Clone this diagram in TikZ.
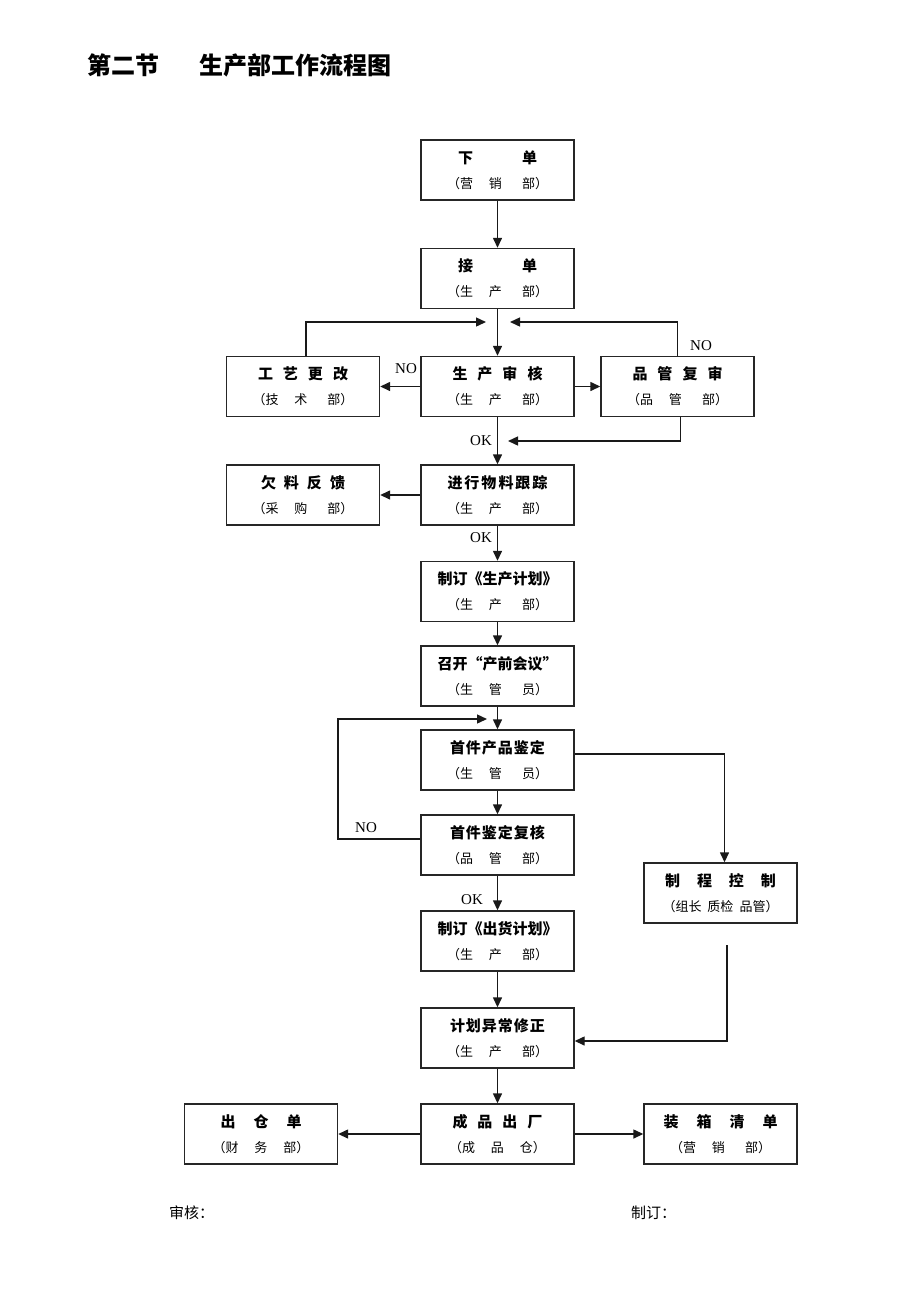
\documentclass[tikz,border=0pt]{standalone}
\usepackage{fontspec}
\usetikzlibrary{arrows.meta}
\newfontfamily\cjk{Noto Sans CJK SC}
\newfontfamily\latinf{Liberation Serif}
\newcommand\gp[1]{\hspace{#1pt}}
\newcommand\subf{\cjk\mdseries\fontsize{13}{15}\selectfont}
\tikzset{
  box/.style={draw=black!85, line width=1.4pt, minimum width=153pt, minimum height=60pt,
    inner sep=0pt, align=center, font=\cjk\bfseries\fontsize{15}{18}\selectfont},
  conn/.style={line width=1.4pt, draw=black!90},
  arr/.style={conn, -{Triangle[length=10pt,width=9pt]}},
  lbl/.style={font=\latinf\fontsize{15}{17}\selectfont, inner sep=0pt},
  ttl/.style={font=\cjk\bfseries\fontsize{24}{28}\selectfont, anchor=west, inner sep=0pt},
  foot/.style={font=\cjk\fontsize{15}{17}\selectfont, anchor=west, inner sep=0pt}
}
\begin{document}
\begin{tikzpicture}[x=1pt,y=-1pt]
\useasboundingbox[fill=white] (0,0) rectangle (920,1302);

\node[ttl] (t1) at (87,65) {第二节};
\node[ttl] (t2) at (199,65) {生产部工作流程图};

\node[box] (xd) at (497.5,170) {下\gp{49}单\\[7pt]{\subf （营\gp{16}销\gp{20}部）}};
\node[box] (jd) at (497.5,278.5) {接\gp{49}单\\[7pt]{\subf （生\gp{16}产\gp{20}部）}};
\node[box] (sh) at (497.5,386.5) {生\gp{10}产\gp{10}审\gp{10}核\\[7pt]{\subf （生\gp{16}产\gp{20}部）}};
\node[box] (gy) at (303,386.5) {工\gp{10}艺\gp{10}更\gp{10}改\\[7pt]{\subf （技\gp{16}术\gp{20}部）}};
\node[box] (pg) at (677.5,386.5) {品\gp{10}管\gp{10}复\gp{10}审\\[7pt]{\subf （品\gp{16}管\gp{20}部）}};
\node[box] (wl) at (497.5,495) {进\gp{2}行\gp{2}物\gp{2}料\gp{2}跟\gp{2}踪\\[7pt]{\subf （生\gp{16}产\gp{20}部）}};
\node[box] (ql) at (303,495) {欠\gp{8}料\gp{8}反\gp{8}馈\\[7pt]{\subf （采\gp{16}购\gp{20}部）}};
\node[box] (jh) at (497.5,591.5) {制订《生产计划》\\[7pt]{\subf （生\gp{16}产\gp{20}部）}};
\node[box] (hy) at (497.5,676) {召开“产前会议”\\[7pt]{\subf （生\gp{16}管\gp{20}员）}};
\node[box] (sj) at (497.5,760) {首\gp{1}件\gp{1}产\gp{1}品\gp{1}鉴\gp{1}定\\[7pt]{\subf （生\gp{16}管\gp{20}员）}};
\node[box] (fh) at (497.5,845) {首\gp{1}件\gp{1}鉴\gp{1}定\gp{1}复\gp{1}核\\[7pt]{\subf （品\gp{16}管\gp{20}部）}};
\node[box] (ch) at (497.5,941) {制订《出货计划》\\[7pt]{\subf （生\gp{16}产\gp{20}部）}};
\node[box] (yc) at (497.5,1038) {计\gp{1}划\gp{1}异\gp{1}常\gp{1}修\gp{1}正\\[7pt]{\subf （生\gp{16}产\gp{20}部）}};
\node[box] (cc) at (497.5,1134) {成\gp{10}品\gp{10}出\gp{10}厂\\[7pt]{\subf （成\gp{16}品\gp{16}仓）}};
\node[box] (ckd) at (261,1134) {出\gp{18}仓\gp{18}单\\[7pt]{\subf （财\gp{16}务\gp{16}部）}};
\node[box] (zx) at (720.5,1134) {装\gp{18}箱\gp{18}清\gp{18}单\\[7pt]{\subf （营\gp{16}销\gp{20}部）}};
\node[box] (zk) at (720.5,893) {制\gp{17}程\gp{17}控\gp{17}制\\[7pt]{\subf （组长\gp{6}质检\gp{6}品管）}};

% connectors
\draw[arr] (xd) -- (jd);
\draw[arr] (jd) -- (sh);
\coordinate (e1) at (486,322);
\coordinate (e2) at (510,322);
\draw[arr] ([xshift=3pt]gy.north) |- (e1);
\draw[arr] (pg.north) |- (e2);
\draw[arr] (sh.west) -- (gy.east);
\draw[arr] (sh.east) -- (pg.west);
\draw[arr] (sh) -- (wl);
\coordinate (e3) at (508,441);
\draw[arr] ([xshift=3pt]pg.south) |- (e3);
\draw[arr] (wl.west) -- (ql.east);
\draw[arr] (wl) -- (jh);
\draw[arr] (jh) -- (hy);
\draw[arr] (hy) -- (sj);
\coordinate (c4) at (338,719);
\coordinate (e4) at (487,719);
\draw[arr] ([yshift=6pt]fh.west) -| (c4) -- (e4);
\draw[arr] (sj) -- (fh);
\draw[arr] (fh) -- (ch);
\draw[arr] (ch) -- (yc);
\draw[arr] ([yshift=6pt]sj.east) -| ([xshift=4pt]zk.north);
\coordinate (s5) at (727,945);
\draw[arr] (s5) |- ([yshift=-3pt]yc.east);
\draw[arr] (yc) -- (cc);
\draw[arr] (cc.west) -- (ckd.east);
\draw[arr] (cc.east) -- (zx.west);

% labels
\node[lbl] (no1) at (701,346) {NO};
\node[lbl] (no2) at (406,369) {NO};
\node[lbl] (ok1) at (481,441) {OK};
\node[lbl] (ok2) at (481,538) {OK};
\node[lbl] (no3) at (366,828) {NO};
\node[lbl] (ok3) at (472,900) {OK};

\node[foot] (f1) at (169,1213) {审核：};
\node[foot] (f2) at (631,1213) {制订：};
\end{tikzpicture}
\end{document}
